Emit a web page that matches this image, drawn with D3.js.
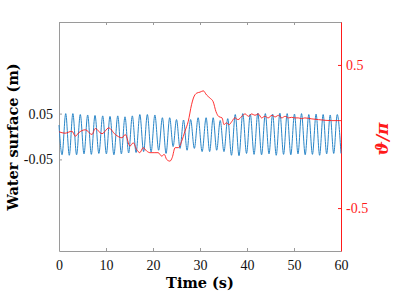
<!DOCTYPE html>
<html>
<head>
<meta charset="utf-8">
<script src="https://cdn.jsdelivr.net/npm/d3@7/dist/d3.min.js"></script>
<style>
body { margin: 0; background: #fff; }
</style>
</head>
<body>
<div id="chart"></div>
<script>
// superficie dell'acqua: picchi e cavi dell'onda (t in s, m)
const peakT = [1.43, 2.95, 4.53, 6.1, 7.66, 9.3, 10.85, 12.5, 14.04, 15.6, 17.2, 18.8, 20.4,
  22.0, 23.55, 25.0, 26.5, 28.0, 29.6, 31.3, 32.8, 34.3, 35.9, 37.5, 39.1,
  40.7, 42.3, 43.9, 45.45, 47.0, 48.55, 50.1, 51.6, 53.15, 54.7, 56.2, 57.7, 59.2];
const peakV = [0.050, 0.050, 0.048, 0.047, 0.046, 0.045, 0.044, 0.045, 0.043, 0.045, 0.048, 0.048, 0.047,
  0.041, 0.041, 0.037, 0.036, 0.037, 0.041, 0.041, 0.041, 0.035, 0.039, 0.048, 0.050,
  0.049, 0.051, 0.050, 0.049, 0.051, 0.050, 0.049, 0.050, 0.048, 0.049, 0.048, 0.047, 0.048];
const troughT = [0, 0.65, 2.19, 3.74, 5.32, 6.88, 8.48, 10.08, 11.68, 13.27, 14.82, 16.4, 18.0, 19.6,
  21.2, 22.78, 24.28, 25.75, 27.25, 28.8, 30.45, 32.05, 33.55, 35.1, 36.7, 38.3, 39.9,
  41.5, 43.1, 44.68, 46.22, 47.78, 49.32, 50.85, 52.38, 53.92, 55.45, 56.95, 58.45, 60.0];
const troughV = [0.025, -0.040, -0.041, -0.040, -0.038, -0.039, -0.037, -0.038, -0.040, -0.038, -0.036, -0.035, -0.033, -0.034,
  -0.030, -0.037, -0.022, -0.026, -0.030, -0.026, -0.033, -0.033, -0.030, -0.033, -0.041, -0.042, -0.037,
  -0.039, -0.040, -0.038, -0.041, -0.039, -0.040, -0.038, -0.040, -0.039, -0.041, -0.038, -0.037, -0.037];

// angolo theta/pi (asse destro)
const thetaT = [0, 1.28, 2.77, 3.47, 4.19, 5.6, 7.02, 7.72, 9.15, 10.57, 11.98, 13.4, 14.1, 15.1, 15.8,
  16.5, 17.2, 17.9, 18.66, 19.36, 20.4, 21.1, 21.85, 22.4, 22.9, 23.6, 24.1, 24.7, 25.4, 26.1,
  26.8, 27.5, 28.2, 28.6, 29.3, 30.0, 30.7, 31.4, 32.1, 32.8, 33.4, 34.0, 34.7, 35.1, 35.6,
  36.2, 36.8, 37.4, 38.1, 38.9, 39.6, 40.3, 41.0, 41.7, 42.4, 43.1, 43.8, 44.5, 45.3, 46.0,
  46.7, 47.4, 48.1, 48.8, 49.5, 50.2, 50.9, 51.6, 52.3, 53.8, 55.2, 56.6, 58.0, 60.0];
const thetaV = [0.033, 0.023, 0.037, 0.002, 0.026, 0.047, 0.014, 0.056, 0.019, 0.060, 0.014, -0.009, 0.014, -0.067, -0.044,
  -0.090, -0.113, -0.078, -0.102, -0.113, -0.113, -0.113, -0.137, -0.125, -0.160, -0.172, -0.146, -0.078, -0.078, -0.033,
  0.037, 0.106, 0.222, 0.269, 0.303, 0.310, 0.319, 0.290, 0.269, 0.243, 0.174, 0.139, 0.130, 0.083, 0.095,
  0.083, 0.106, 0.130, 0.118, 0.141, 0.158, 0.141, 0.158, 0.148, 0.158, 0.130, 0.141, 0.130, 0.148, 0.137,
  0.148, 0.130, 0.141, 0.130, 0.134, 0.130, 0.130, 0.125, 0.130, 0.123, 0.118, 0.113, 0.111, 0.111];

const xTicks = [0, 10, 20, 30, 40, 50, 60];
const leftTicks = [-0.05, 0.05];
const rightTicks = [-0.5, 0.5];

const width = 399, height = 295;
const margin = { top: 22, right: 58, bottom: 44, left: 59 };
const w = width - margin.left - margin.right;
const h = height - margin.top - margin.bottom;

const fontTick = '"Liberation Serif", "Times New Roman", serif';
const fontLabel = '"DejaVu Serif", "Liberation Serif", serif';

const svg = d3.select('#chart').append('svg')
  .attr('width', width)
  .attr('height', height);

const g = svg.append('g')
  .attr('transform', `translate(${margin.left},${margin.top})`);

const x = d3.scaleLinear().domain([0, 60]).range([0, w]);
const yL = d3.scaleLinear().domain([-0.25, 0.25]).range([h, 0]);
const yR = d3.scaleLinear().domain([-0.8, 0.8]).range([h, 0]);

// unisco picchi e cavi in ordine di tempo
const onda = peakT.map((t, i) => [t, peakV[i]])
  .concat(troughT.map((t, i) => [t, troughV[i]]))
  .sort((a, b) => a[0] - b[0]);
const theta = thetaT.map((t, i) => [t, thetaV[i]]);

const grigio = '#9a9a9a';
const rosso = '#ff1a1a';

// assi
const fmt = d => d.toFixed(Math.abs(d) < 0.1 ? 2 : 1);

const asseX = g.append('g')
  .attr('transform', `translate(0,${h})`)
  .call(d3.axisBottom(x).tickValues(xTicks).tickSizeInner(-3).tickSizeOuter(0).tickPadding(9));
const asseTop = g.append('g')
  .call(d3.axisTop(x).tickValues(xTicks).tickSizeInner(-3).tickSizeOuter(0).tickFormat(''));
const asseL = g.append('g')
  .call(d3.axisLeft(yL).tickValues(leftTicks).tickSizeInner(-3).tickSizeOuter(0).tickPadding(6).tickFormat(fmt));
const asseR = g.append('g')
  .attr('transform', `translate(${w},0)`)
  .call(d3.axisRight(yR).tickValues(rightTicks).tickSizeInner(-3).tickSizeOuter(0).tickPadding(5).tickFormat(fmt));

[asseX, asseTop, asseL, asseR].forEach(a => {
  a.attr('font-family', fontTick).attr('font-size', 14);
});
[asseX, asseTop, asseL].forEach(a => {
  a.select('.domain').attr('stroke', grigio);
  a.selectAll('.tick line').attr('stroke', grigio);
  a.selectAll('.tick text').attr('fill', '#111');
});
asseR.select('.domain').attr('stroke', rosso);
asseR.selectAll('.tick line').attr('stroke', rosso);
asseR.selectAll('.tick text').attr('fill', rosso);

// linee
const lineaOnda = d3.line()
  .x(d => x(d[0]))
  .y(d => yL(d[1]))
  .curve(d3.curveMonotoneX);
const lineaTheta = d3.line()
  .x(d => x(d[0]))
  .y(d => yR(d[1]))
  .curve(d3.curveMonotoneX);

g.append('path')
  .attr('d', lineaOnda(onda))
  .attr('fill', 'none')
  .attr('stroke', '#2a86c8')
  .attr('stroke-width', 1);

g.append('path')
  .attr('d', lineaTheta(theta))
  .attr('fill', 'none')
  .attr('stroke', rosso)
  .attr('stroke-width', 0.9);

// etichette assi
svg.append('text')
  .attr('x', margin.left + w / 2)
  .attr('y', 288)
  .attr('text-anchor', 'middle')
  .attr('font-family', fontLabel)
  .attr('font-size', 14.5)
  .attr('font-weight', 'bold')
  .text('Time (s)');

svg.append('text')
  .attr('transform', `translate(18,137) rotate(-90)`)
  .attr('text-anchor', 'middle')
  .attr('font-family', fontLabel)
  .attr('font-size', 14.5)
  .attr('font-weight', 'bold')
  .text('Water surface (m)');

svg.append('text')
  .attr('transform', `translate(388,139) rotate(-90)`)
  .attr('text-anchor', 'middle')
  .attr('fill', rosso)
  .attr('font-family', fontLabel)
  .attr('font-size', 17)
  .attr('font-weight', 'bold')
  .attr('font-style', 'italic')
  .text('ϑ/π');
</script>
</body>
</html>
